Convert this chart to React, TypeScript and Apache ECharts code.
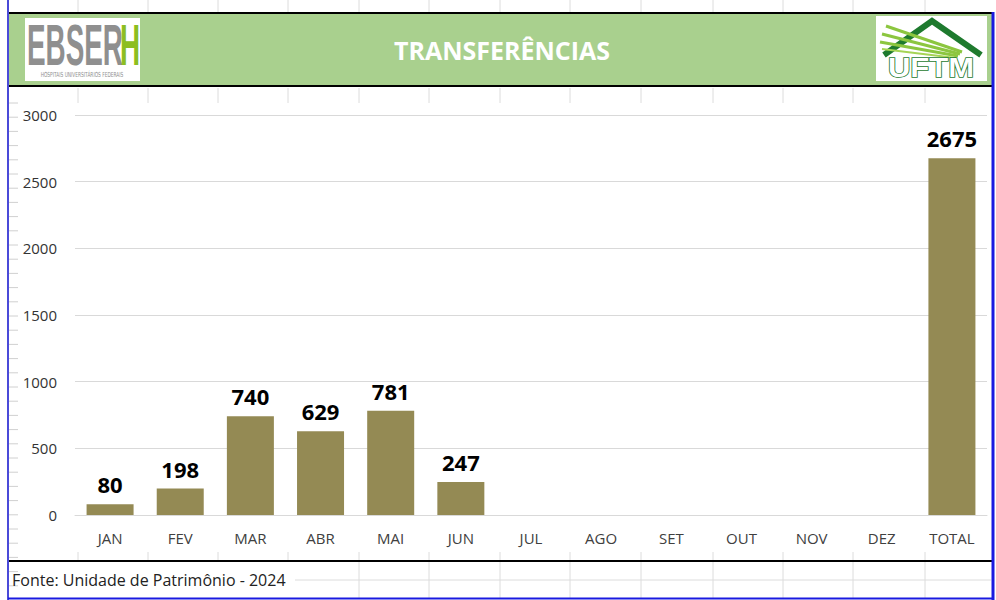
import React, { useEffect, useRef } from "react";
import * as echarts from "echarts";

const categories = ["JAN", "FEV", "MAR", "ABR", "MAI", "JUN", "JUL", "AGO", "SET", "OUT", "NOV", "DEZ", "TOTAL"];
const values: (number | null)[] = [80, 198, 740, 629, 781, 247, null, null, null, null, null, null, 2675];
const title = "TRANSFERÊNCIAS";
const footer = "Fonte: Unidade de Patrimônio - 2024";

const FONT = "'Open Sans', 'Noto Sans', sans-serif";

export default function App() {
  const ref = useRef<HTMLDivElement>(null);
  useEffect(() => {
    if (!ref.current) return;
    const chart = echarts.init(ref.current, null, { renderer: "svg" });

    const cellLines: any[] = [];
    const colXs = [78, 148, 218, 288, 359, 429, 500, 570, 641, 713, 783, 853, 925];
    colXs.forEach((x) => {
      cellLines.push({ type: "line", shape: { x1: x, y1: 0, x2: x, y2: 12 }, style: { stroke: "#dcdcdc", lineWidth: 1 } });
      cellLines.push({ type: "line", shape: { x1: x, y1: 88, x2: x, y2: 103 }, style: { stroke: "#dcdcdc", lineWidth: 1 } });
      if (x > 295) cellLines.push({ type: "line", shape: { x1: x, y1: 552, x2: x, y2: 598 }, style: { stroke: "#dcdcdc", lineWidth: 1 } });
      else cellLines.push({ type: "line", shape: { x1: x, y1: 552, x2: x, y2: 560 }, style: { stroke: "#dcdcdc", lineWidth: 1 } });
    });
    cellLines.push({ type: "line", shape: { x1: 295, y1: 580, x2: 991, y2: 580 }, style: { stroke: "#dcdcdc", lineWidth: 1 } });
    for (let y = 103; y < 598; y += 14.2) {
      cellLines.push({ type: "line", shape: { x1: 9, y1: y, x2: 18, y2: y }, style: { stroke: "#d0d0d0", lineWidth: 1 } });
    }

    chart.setOption({
      animation: false,
      backgroundColor: "#ffffff",
      grid: { left: 75, right: 9, top: 115, bottom: 85, containLabel: false },
      xAxis: {
        type: "category",
        data: categories,
        axisLine: { show: true, lineStyle: { color: "#d9d9d9", width: 1 } },
        axisTick: { show: false },
        axisLabel: { color: "#404040", fontSize: 15, fontFamily: FONT, margin: 15 },
      },
      yAxis: {
        type: "value",
        min: 0,
        max: 3000,
        interval: 500,
        axisLine: { show: false },
        axisTick: { show: false },
        splitLine: { lineStyle: { color: "#d9d9d9", width: 1 } },
        axisLabel: { color: "#333333", fontSize: 15, fontFamily: FONT, margin: 18, formatter: (v: number) => String(v) },
      },
      series: [
        {
          type: "bar",
          data: values,
          barWidth: "67%",
          itemStyle: { color: "#948a54" },
          label: {
            show: true,
            position: "top",
            distance: 9,
            color: "#000000",
            fontSize: 22,
            fontWeight: "bold",
            fontFamily: FONT,
          },
        },
      ],
      graphic: [
        ...cellLines,
        // header band
        { type: "rect", shape: { x: 9, y: 13, width: 983, height: 73 }, style: { fill: "#a9d08e" } },
        { type: "line", shape: { x1: 9, y1: 13, x2: 993, y2: 13 }, style: { stroke: "#000", lineWidth: 2 } },
        { type: "line", shape: { x1: 9, y1: 86, x2: 993, y2: 86 }, style: { stroke: "#000", lineWidth: 2 } },
        {
          type: "text",
          style: { x: 502, y: 50, text: title, fill: "#ffffff", fontSize: 25, fontWeight: "bold", fontFamily: FONT, align: "center", verticalAlign: "middle" },
        },
        // EBSERH logo
        { type: "rect", shape: { x: 25, y: 18, width: 115, height: 63 }, style: { fill: "#ffffff" } },
        {
          type: "group",
          x: 27,
          y: 45,
          scaleX: 0.48,
          children: [
            { type: "text", style: { x: 0, y: 0, text: "EBSER", fill: "#8f8f8f", fontSize: 58, fontWeight: "bold", fontFamily: "'Liberation Sans', sans-serif", verticalAlign: "middle" } },
            { type: "text", style: { x: 194, y: 0, text: "H", fill: "#8cbe22", fontSize: 58, fontWeight: "bold", fontFamily: "'Liberation Sans', sans-serif", verticalAlign: "middle" } },
          ],
        },
        {
          type: "group",
          x: 82,
          y: 75,
          scaleX: 0.62,
          children: [
            { type: "text", style: { x: 0, y: 0, text: "HOSPITAIS UNIVERSITÁRIOS FEDERAIS", fill: "#8f8f8f", fontSize: 7, fontFamily: "'DejaVu Sans', sans-serif", align: "center", verticalAlign: "middle" } },
          ],
        },
        // UFTM logo
        { type: "rect", shape: { x: 876, y: 16, width: 111, height: 65 }, style: { fill: "#ffffff" } },
        { type: "polyline", shape: { points: [[884, 55], [932, 21], [981, 55]] }, style: { stroke: "#1e7a2e", lineWidth: 6, fill: "none" } },
        { type: "line", shape: { x1: 886, y1: 26, x2: 962, y2: 52 }, style: { stroke: "#8cc63f", lineWidth: 3 } },
        { type: "line", shape: { x1: 882, y1: 34, x2: 960, y2: 54 }, style: { stroke: "#8cc63f", lineWidth: 3 } },
        { type: "line", shape: { x1: 880, y1: 42, x2: 958, y2: 56 }, style: { stroke: "#8cc63f", lineWidth: 3 } },
        { type: "line", shape: { x1: 882, y1: 49, x2: 956, y2: 58 }, style: { stroke: "#a6d455", lineWidth: 2 } },
        {
          type: "group",
          x: 931,
          y: 68,
          scaleX: 1.15,
          children: [
            { type: "text", style: { x: 0, y: 0, text: "UFTM", fill: "#ffffff", stroke: "#1e7a2e", lineWidth: 1.5, fontSize: 27, fontWeight: "bold", fontFamily: "'Liberation Sans', sans-serif", align: "center", verticalAlign: "middle" } },
          ],
        },
        // footer
        { type: "line", shape: { x1: 9, y1: 561, x2: 993, y2: 561 }, style: { stroke: "#000", lineWidth: 2 } },
        {
          type: "text",
          style: { x: 12, y: 580, text: footer, fill: "#222222", fontSize: 16, fontFamily: FONT, verticalAlign: "middle" },
        },
        // blue frame
        { type: "line", shape: { x1: 8, y1: 0, x2: 8, y2: 600 }, style: { stroke: "#4a4ad8", lineWidth: 2 } },
        { type: "line", shape: { x1: 993, y1: 12, x2: 993, y2: 600 }, style: { stroke: "#1a1ae0", lineWidth: 3 } },
        { type: "line", shape: { x1: 8, y1: 598.5, x2: 994, y2: 598.5 }, style: { stroke: "#1a1ae0", lineWidth: 2 } },
      ],
    });
    return () => chart.dispose();
  }, []);
  return <div ref={ref} style={{ position: "fixed", left: 0, top: 0, width: 996, height: 600 }} />;
}
